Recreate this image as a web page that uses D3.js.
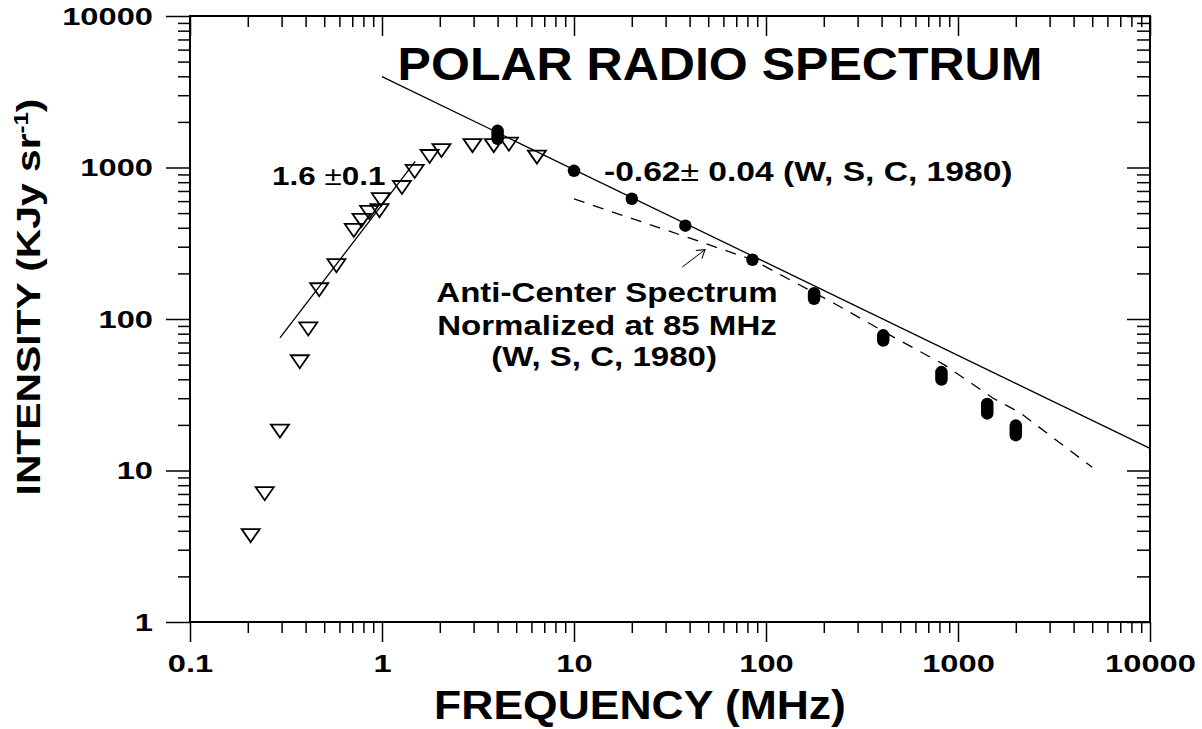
<!DOCTYPE html>
<html>
<head>
<meta charset="utf-8">
<script src="https://cdn.jsdelivr.net/npm/d3@7"></script>
<style>
  body { margin: 0; background: #fff; }
  svg { display: block; font-family: 'Liberation Sans', Arial, sans-serif; font-weight: bold; }
</style>
</head>
<body>
<svg id="chart" width="1202" height="729"></svg>
<script>
// polar spectrum, low frequency points (open triangles)
const triFreq = [0.207, 0.245, 0.294, 0.373, 0.413, 0.471, 0.579, 0.713, 0.782, 0.857, 0.986, 0.97, 1.27, 1.48, 1.77, 2.04, 2.96, 3.82, 4.58, 6.41];
const triInt = [3.72, 7.03, 18.2, 52.2, 86, 156, 225, 384, 448, 505, 613, 519, 738, 942, 1182, 1294, 1396, 1396, 1426, 1171];

// polar spectrum, survey points (filled dots, pairs merge into pills)
const dotFreq = [4, 4, 10, 20, 38, 85, 178, 178, 408, 408, 820, 820, 1420, 1420, 2000, 2000];
const dotInt = [1746, 1546, 950, 622, 413, 246, 148, 136, 78, 72, 44.6, 39.8, 27.5, 23.8, 19.8, 17.1];

// anti-center spectrum normalized at 85 MHz (dashed)
const antiFreq = [10, 38, 85, 226, 470, 846, 1524, 2109, 5000];
const antiInt = [620, 350, 246, 127, 75, 50, 30, 24, 10.5];

// power law fits
const fitHighFreq = [1, 10000];
const fitHighInt = [3975, 14];
const fitLowFreq = [0.294, 1.49];
const fitLowInt = [75, 1096];

// little arrow pointing at the dashed curve
const arrowFreq = [36.6, 48.2];
const arrowInt = [220, 287];

const xTicks = [0.1, 1, 10, 100, 1000, 10000];
const xTickLabels = ['0.1', '1', '10', '100', '1000', '10000'];
const yTicks = [1, 10, 100, 1000, 10000];
const yTickLabels = ['1', '10', '100', '1000', '10000'];

const svg = d3.select('#chart');

const x = d3.scaleLog().domain([0.1, 10000]).range([190, 1150]);
const y = d3.scaleLog().domain([1, 10000]).range([622, 16]);

const minorOf = ticks => ticks.slice(0, -1)
    .flatMap(t => d3.range(2, 10).map(m => +(m * t).toPrecision(3)));

const stretch = (sel, k) => sel.each(function(){
    const t = d3.select(this);
    const tx = +t.attr('x') || 0;
    const ty = +t.attr('y') || 0;
    t.attr('x', null).attr('y', null)
        .attr('transform', 'translate(' + tx + ',' + ty + ') scale(' + k + ',1)');
});

const addAxis = (axisFn, scale, ticks, pos, major, minor, labels) => {
    const isX = (axisFn === d3.axisBottom);
    const g = svg.append('g')
        .attr('transform', isX ? 'translate(0,' + pos + ')' : 'translate(' + pos + ',0)');

    g.append('g')
        .call(axisFn(scale).tickValues(minorOf(ticks)).tickSize(minor).tickFormat(''));

    g.append('g')
        .classed('major', true)
        .call(axisFn(scale).tickValues(ticks).tickSize(major)
            .tickFormat((d, i) => labels ? labels[i] : ''));

    g.selectAll('.domain').remove();
    g.selectAll('line').attr('stroke', '#000').attr('stroke-width', 1.5);
    return g;
};

// left: ticks outward with labels
const left = addAxis(d3.axisLeft, y, yTicks, 190, 24, 12, yTickLabels);
left.selectAll('.major text')
    .attr('x', -37).attr('y', 8).attr('dy', null)
    .style('font-size', '23px').style('font-family', null);
stretch(left.selectAll('.major text'), 1.42);

// right: ticks pointing into the plot
addAxis(d3.axisLeft, y, yTicks, 1150, 23, 13, null);

// top: ticks pointing down into the plot
addAxis(d3.axisBottom, x, xTicks, 16, 20, 11, null);

// bottom: ticks outward with labels
const bottom = addAxis(d3.axisBottom, x, xTicks, 622, 20, 11, xTickLabels);
bottom.selectAll('.major text')
    .attr('y', 50).attr('dy', null)
    .style('font-size', '23px').style('font-family', null);
stretch(bottom.selectAll('.major text'), 1.42);

svg.selectAll('.tick text').attr('fill', '#000');

// frame
svg.append('rect')
    .attr('x', x(0.1)).attr('y', y(10000))
    .attr('width', x(10000) - x(0.1)).attr('height', y(1) - y(10000))
    .attr('fill', 'none').attr('stroke', '#000').attr('stroke-width', 2);

const line = d3.line().x(d => x(d[0])).y(d => y(d[1]));
const pairs = (fs, vs) => fs.map((f, i) => [f, vs[i]]);

// fits
svg.append('path')
    .attr('d', line(pairs(fitHighFreq, fitHighInt)))
    .attr('fill', 'none').attr('stroke', '#000').attr('stroke-width', 1.3);
svg.append('path')
    .attr('d', line(pairs(fitLowFreq, fitLowInt)))
    .attr('fill', 'none').attr('stroke', '#000').attr('stroke-width', 1.3);

// anti-center spectrum
svg.append('path')
    .attr('d', line(pairs(antiFreq, antiInt)))
    .attr('fill', 'none').attr('stroke', '#000').attr('stroke-width', 1.3)
    .attr('stroke-dasharray', '11,9');

// triangles
svg.append('g')
    .selectAll('path')
    .data(pairs(triFreq, triInt))
    .join('path')
    .attr('transform', d => 'translate(' + x(d[0]) + ',' + y(d[1]) + ')')
    .attr('d', 'M-9,-6.5L9,-6.5L0,6.5Z')
    .attr('fill', 'none').attr('stroke', '#000').attr('stroke-width', 1.8);

// filled dots: points at the same frequency merge into one pill
const dotGroups = Array.from(d3.group(pairs(dotFreq, dotInt), d => d[0]),
    ([f, pts]) => [f, d3.min(pts, p => p[1]), d3.max(pts, p => p[1])]);

svg.append('g')
    .selectAll('line')
    .data(dotGroups)
    .join('line')
    .attr('x1', d => x(d[0])).attr('x2', d => x(d[0]))
    .attr('y1', d => y(d[1])).attr('y2', d => y(d[2]) - 0.01)
    .attr('stroke', '#000').attr('stroke-width', 12.5)
    .attr('stroke-linecap', 'round');

// arrow
svg.append('defs').append('marker')
    .attr('id', 'head')
    .attr('markerUnits', 'userSpaceOnUse')
    .attr('markerWidth', 12).attr('markerHeight', 12)
    .attr('refX', 10).attr('refY', 6)
    .attr('orient', 'auto')
    .append('path')
    .attr('d', 'M2,1L10,6L2,11')
    .attr('fill', 'none').attr('stroke', '#000').attr('stroke-width', 1);
svg.append('path')
    .attr('d', line(pairs(arrowFreq, arrowInt)))
    .attr('stroke', '#000').attr('stroke-width', 1)
    .attr('marker-end', 'url(#head)');

// texts
const addText = (tx, ty, size, k, anchor) => svg.append('text')
    .attr('transform', 'translate(' + tx + ',' + ty + ') scale(' + k + ',1)')
    .attr('text-anchor', anchor)
    .style('font-size', size + 'px');

addText(720, 80, 46, 1.088, 'middle').text('POLAR RADIO SPECTRUM');

const lowLab = addText(272, 185, 26, 1.21, 'start');
lowLab.append('tspan').text('1.6 ');
lowLab.append('tspan').style('font-weight', 'normal').text('\u00b1');
lowLab.append('tspan').text('0.1');

const highLab = addText(604, 181, 28, 1.2, 'start');
highLab.append('tspan').text('-0.62');
highLab.append('tspan').style('font-weight', 'normal').text('\u00b1');
highLab.append('tspan').text(' 0.04 (W, S, C, 1980)');

addText(607, 302, 28, 1.18, 'middle').text('Anti-Center Spectrum');
addText(607, 335, 28, 1.18, 'middle').text('Normalized at 85 MHz');
addText(604, 366, 28, 1.18, 'middle').text('(W, S, C, 1980)');

addText(640, 719, 41, 1.085, 'middle').text('FREQUENCY (MHz)');

const yLab = svg.append('text')
    .attr('transform', 'translate(40,297) rotate(-90) scale(1.2,1)')
    .attr('text-anchor', 'middle')
    .style('font-size', '34px');
yLab.append('tspan').text('INTENSITY (KJy sr');
yLab.append('tspan').attr('dy', -12).style('font-size', '20px').text('-1');
yLab.append('tspan').attr('dy', 12).text(')');
</script>
</body>
</html>
